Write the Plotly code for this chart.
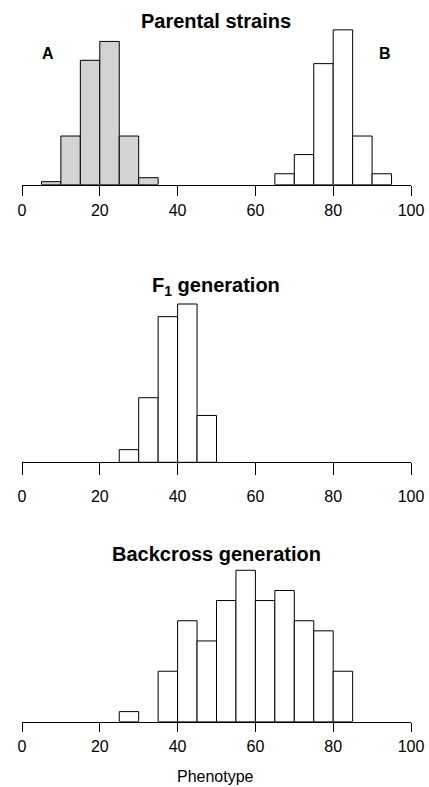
import plotly.graph_objects as go

# ---- data (bin starts, width 5) ----
bin_width = 5
parentA_starts = [5, 10, 15, 20, 25, 30]
parentA_vals = [1.0, 16.0, 40.9, 47.1, 16.0, 2.3]
parentB_starts = [65, 70, 75, 80, 85, 90]
parentB_vals = [3.6, 9.9, 39.8, 50.9, 16.0, 3.6]
f1_starts = [25, 30, 35, 40, 45]
f1_vals = [2.0, 10.2, 23.0, 25.0, 7.4]
bc_starts = [25, 35, 40, 45, 50, 55, 60, 65, 70, 75, 80]
bc_vals = [1, 5, 10, 8, 12, 15, 12, 13, 10, 9, 5]
tick_vals = [0, 20, 40, 60, 80, 100]
tick_text = ["0", "20", "40", "60", "80", "100"]

W, H = 429, 787
FONT = "Liberation Sans, Arial, sans-serif"


def py(px):
    return 1 - px / H


def px_x(px):
    return px / W


fig = go.Figure()


def centers(starts):
    return [s + bin_width / 2 for s in starts]


def add_bars(starts, vals, color, xa, ya):
    fig.add_trace(go.Bar(
        x=centers(starts), y=vals, width=bin_width,
        marker=dict(color=color, line=dict(color="black", width=1)),
        xaxis=xa, yaxis=ya, showlegend=False, hoverinfo="x+y"))


add_bars(parentA_starts, parentA_vals, "#d3d3d3", "x", "y")
add_bars(parentB_starts, parentB_vals, "white", "x", "y")
add_bars(f1_starts, f1_vals, "white", "x2", "y2")
add_bars(bc_starts, bc_vals, "white", "x3", "y3")

x_dom = [px_x(22), px_x(411)]
# (baseline px, top px, ymax, ticklen, standoff)
panels = [
    (184.7, 24.7, 52.6, 10, 1),
    (462.3, 302.3, 25.27, 12, 7),
    (721.7, 561.7, 15.85, 9, 1),
]

layout = dict(
    width=W, height=H, margin=dict(l=0, r=0, t=0, b=0, autoexpand=False),
    paper_bgcolor="white", plot_bgcolor="white", barmode="overlay",
    font=dict(family=FONT, color="black"),
)
for i, (base, top, ymax, tl, so) in enumerate(panels, start=1):
    sfx = "" if i == 1 else str(i)
    layout["xaxis" + sfx] = dict(
        domain=x_dom, range=[0, 100], anchor="y" + sfx,
        showline=True, linecolor="black", linewidth=1,
        ticks="outside", ticklen=tl, tickwidth=1, tickcolor="black",
        tickvals=tick_vals, ticktext=tick_text, ticklabelstandoff=so,
        tickfont=dict(size=16, family=FONT, color="black"),
        showgrid=False, zeroline=False, fixedrange=True, automargin=False,
    )
    layout["yaxis" + sfx] = dict(
        domain=[py(base), py(top)], range=[0, ymax], anchor="x" + sfx,
        visible=False, showgrid=False, zeroline=False, fixedrange=True,
    )

fig.update_layout(**layout)

ann = [
    ("<b>Parental strains</b>", 216.5, 20.5, 20),
    ("<b>F<sub>1</sub> generation</b>", 216.5, 286.5, 20),
    ("<b>Backcross generation</b>", 216.5, 553.5, 20),
    ("<b>A</b>", 48, 54, 16),
    ("<b>B</b>", 385, 54, 16),
    ("Phenotype", 215.5, 776, 16),
]
for text, x, y, size in ann:
    fig.add_annotation(text=text, x=px_x(x), y=py(y), xref="paper", yref="paper",
                       xanchor="center", yanchor="middle", showarrow=False,
                       font=dict(size=size, family=FONT, color="black"))

fig.write_html(
    "out.html",
    config={"responsive": False, "displayModeBar": False},
    post_script="document.body.style.margin='0';document.body.style.overflow='hidden';",
)
